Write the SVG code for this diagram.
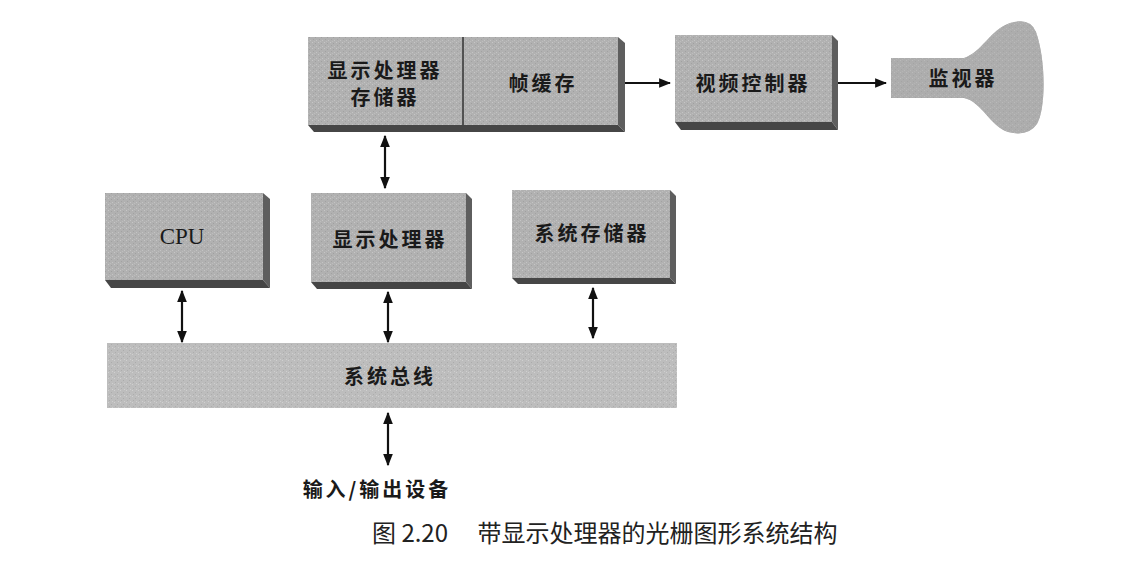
<svg xmlns="http://www.w3.org/2000/svg" width="1134" height="567" viewBox="0 0 1134 567">
<style>
.side{fill:#5e5e5e;}
.bot{fill:#464646;}
.lbl{font-family:"Noto Sans CJK SC","Noto Sans",sans-serif;font-weight:bold;font-size:20px;letter-spacing:3px;fill:#1a1a1a;text-anchor:middle;}
.cpu{font-family:"Liberation Serif",serif;font-size:23px;fill:#1a1a1a;text-anchor:middle;}
.cap{font-family:"Noto Sans CJK SC","Noto Sans",sans-serif;font-size:24px;fill:#222;}
.ln{stroke:#111;stroke-width:2.2;fill:none;}
</style>
<defs>
<marker id="ah" viewBox="0 0 10 8" refX="9" refY="4" markerWidth="5.5" markerHeight="4.4" orient="auto-start-reverse" markerUnits="strokeWidth">
<path d="M0,0 L10,4 L0,8 Z" fill="#111"/>
</marker>
<pattern id="tex" width="6" height="6" patternUnits="userSpaceOnUse">
<rect width="6" height="6" fill="#b1b1b1"/>
<rect x="0" y="0" width="1" height="1" fill="#c6c6c6"/>
<rect x="3" y="1" width="1" height="1" fill="#a0a0a0"/>
<rect x="1" y="3" width="1" height="1" fill="#a2a2a2"/>
<rect x="4" y="4" width="1" height="1" fill="#c4c4c4"/>
<rect x="2" y="5" width="1" height="1" fill="#bdbdbd"/>
</pattern>
<pattern id="tex2" width="6" height="6" patternUnits="userSpaceOnUse">
<rect width="6" height="6" fill="#bdbdbd"/>
<rect x="0" y="0" width="1" height="1" fill="#d0d0d0"/>
<rect x="3" y="2" width="1" height="1" fill="#ababab"/>
<rect x="1" y="4" width="1" height="1" fill="#adadad"/>
<rect x="4" y="5" width="1" height="1" fill="#cfcfcf"/>
</pattern>
</defs>
<rect width="1134" height="567" fill="#fff"/>

<g id="node-memory-framebuffer">
<polygon class="side" points="618,37 625,43 625,132 618,125"/>
<polygon class="bot" points="308,125 618,125 625,132 314,132"/>
<rect x="308" y="37" width="310" height="88" fill="url(#tex)"/>
<line x1="463" y1="37" x2="463" y2="125" stroke="#333" stroke-width="1.5"/>
<text class="lbl" x="385" y="78">显示处理器</text>
<text class="lbl" x="385" y="105">存储器</text>
<text class="lbl" x="543" y="91">帧缓存</text>
</g>

<g id="node-video-controller">
<polygon class="side" points="832,35 838,41 838,130 832,122"/>
<polygon class="bot" points="675,122 832,122 838,130 681,130"/>
<rect x="675" y="35" width="157" height="87" fill="url(#tex)"/>
<text class="lbl" x="753" y="91">视频控制器</text>
</g>

<g id="node-monitor">
<path d="M891,58 L964,58 C982,52 990,30 1010,23 Q1030,17 1036,32 C1046,60 1046,108 1037,124 Q1028,137 1008,132 C990,126 982,102 964,98 L891,98 Z" fill="#a7a7a7"/>
<path d="M891,58 L964,58 C982,52 990,30 1010,23 Q1030,17 1036,32 C1046,60 1046,108 1037,124 Q1028,137 1008,132 C990,126 982,102 964,98 L891,98 Z" fill="url(#tex)" opacity="0.6"/>
<text class="lbl" x="963" y="86">监视器</text>
</g>

<g id="node-cpu">
<polygon class="side" points="263,193 270,199 270,288 263,280"/>
<polygon class="bot" points="105,280 263,280 270,288 111,288"/>
<rect x="105" y="193" width="158" height="87" fill="url(#tex)"/>
<text class="cpu" x="182" y="244">CPU</text>
</g>

<g id="node-display-processor">
<polygon class="side" points="466,193 472,199 472,289 466,282"/>
<polygon class="bot" points="311,282 466,282 472,289 317,289"/>
<rect x="311" y="193" width="155" height="89" fill="url(#tex)"/>
<text class="lbl" x="390" y="247">显示处理器</text>
</g>

<g id="node-system-memory">
<polygon class="side" points="670,190 676,196 676,284 670,278"/>
<polygon class="bot" points="512,278 670,278 676,284 518,284"/>
<rect x="512" y="190" width="158" height="88" fill="url(#tex)"/>
<text class="lbl" x="592" y="241">系统存储器</text>
</g>

<g id="node-system-bus">
<rect x="107" y="343" width="570" height="65" fill="url(#tex2)"/>
<text class="lbl" x="390" y="384">系统总线</text>
</g>

<g id="node-io">
<text class="lbl" x="377" y="497">输入/输出设备</text>
</g>

<g id="connectors">
<line class="ln" x1="625" y1="83" x2="670" y2="83" marker-end="url(#ah)"/>
<line class="ln" x1="838" y1="83" x2="886" y2="83" marker-end="url(#ah)"/>
<line class="ln" x1="385" y1="136" x2="385" y2="188" marker-start="url(#ah)" marker-end="url(#ah)"/>
<line class="ln" x1="182" y1="291" x2="182" y2="342" marker-start="url(#ah)" marker-end="url(#ah)"/>
<line class="ln" x1="388" y1="292" x2="388" y2="342" marker-start="url(#ah)" marker-end="url(#ah)"/>
<line class="ln" x1="593" y1="288" x2="593" y2="338" marker-start="url(#ah)" marker-end="url(#ah)"/>
<line class="ln" x1="388" y1="413" x2="388" y2="465" marker-start="url(#ah)" marker-end="url(#ah)"/>
</g>

<text class="cap" x="372" y="542">图 2.20　 带显示处理器的光栅图形系统结构</text>
</svg>
